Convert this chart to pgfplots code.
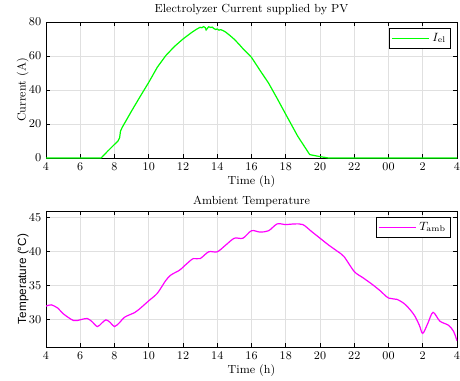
\documentclass[border=0pt]{standalone}
\usepackage{fontspec}
\newfontfamily\helv{Liberation Sans}
\usepackage{pgfplots}
\pgfplotsset{compat=1.18}
\definecolor{elgreen}{RGB}{0,255,0}
\definecolor{ambmag}{RGB}{255,0,255}
\begin{document}
\begin{tikzpicture}
\path[use as bounding box] (0pt,0pt) rectangle (345pt,285.75pt);
\pgfplotsset{
  every axis/.append style={
    font=\fontsize{8.8}{10.5}\selectfont,
    scale only axis,
    width=308.25pt, height=102pt,
    xmin=4, xmax=28,
    xtick={4,6,...,28},
    xticklabels={4,6,8,10,12,14,16,18,20,22,00,2,4},
    tick align=inside,
    major tick length=3pt,
    grid=major,
    major grid style={line width=0.5pt, draw=black!12},
    axis line style={line width=0.6pt, black},
    every tick/.style={black, line width=0.5pt},
    title style={yshift=-4.5pt},
    xlabel={Time (h)},
    xlabel style={yshift=3.5pt},
    ylabel style={yshift=-6.5pt},
    legend cell align=left,
    legend style={at={(0.985,0.955)}, anchor=north east, draw=black, inner sep=1.5pt, font=\fontsize{8.8}{10.5}\selectfont},
    legend image code/.code={\draw[#1] (0pt,0pt) -- (28pt,0pt);},
  },
}
\begin{axis}[at={(34.5pt,167.25pt)}, anchor=south west,
  ymin=0, ymax=80, ytick={0,20,40,60,80},
  title={Electrolyzer Current supplied by PV},
  ylabel={Current (A)}]
\addlegendimage{elgreen, line width=0.9pt}
\addlegendentry{$I_{\mathrm{el}}$}
\end{axis}
\begin{axis}[at={(34.5pt,167.25pt)}, anchor=south west,
  ymin=0, ymax=80, hide axis, clip=false]
\addplot[elgreen, line width=0.9pt] coordinates {
(4,0) (7.22,0) (7.6,4) (8.0,8) (8.2,9.9) (8.3,12) (8.35,15.8) (8.45,18.0)
(9,27.7) (9.5,36.2) (10,44.5) (10.5,53.4) (11,60.3) (11.5,65.6) (12,70.0)
(12.5,73.8) (12.8,75.8) (13.0,76.9) (13.1,76.6) (13.2,77.3) (13.3,76.7) (13.35,75.3) (13.45,76.6)
(13.5,77.2) (13.6,76.8) (13.7,77.0) (13.8,76.2) (13.9,75.6) (14.0,75.9)
(14.1,75.2) (14.2,75.5) (14.35,74.9) (14.5,74.0) (14.75,72.0) (15,69.8) (15.3,66.6) (15.5,64.3) (16,59.2)
(16.5,51.5) (17,44.0) (17.5,35.0) (18,25.7) (18.7,12.8) (19.4,2.0) (20,0.8) (20.5,0) (28,0)
};
\end{axis}
\begin{axis}[at={(34.5pt,25.5pt)}, anchor=south west,
  ymin=26, ymax=46, ytick={30,35,40,45},
  title={Ambient Temperature}, title style={yshift=-2pt},
  ylabel={\helv Temperature (°C)}]
\addlegendimage{ambmag, line width=0.9pt}
\addlegendentry{$T_{\mathrm{amb}}$}
\end{axis}
\begin{axis}[at={(34.5pt,25.5pt)}, anchor=south west,
  ymin=26, ymax=46, hide axis]
\addplot[ambmag, line width=0.9pt, smooth] coordinates {
(4,32.0) (4.3,32.2) (4.7,31.7) (5,30.9) (5.6,29.9) (6,30.0) (6.4,30.2) (6.7,29.7)
(7.0,29.0) (7.25,29.5) (7.5,30.0) (7.75,29.6) (8.0,29.0) (8.3,29.6) (8.6,30.4) (9.2,31.1)
(9.6,31.9) (10,32.8) (10.5,33.9) (11,35.8) (11.3,36.6) (11.8,37.3) (12.2,38.2) (12.6,39.0)
(13,39.0) (13.5,40.0) (14,40.0) (14.5,41.0) (15,42.0) (15.5,42.0) (16,43.1) (16.5,42.9)
(17,43.1) (17.5,44.1) (18,44.0) (18.5,44.1) (19,44.0) (19.5,43.0) (20,42.0) (20.5,41.0) (21,40.1)
(21.4,39.3) (22,37.1) (22.5,36.2) (23,35.3) (23.5,34.3) (24,33.2) (24.5,33.0) (25,32.2)
(25.5,30.7) (25.8,29.2) (26,28.0) (26.3,29.5) (26.6,31.1) (27,29.8) (27.5,29.2) (27.8,28.3) (28,26.9)
};
\end{axis}
\end{tikzpicture}
\end{document}
